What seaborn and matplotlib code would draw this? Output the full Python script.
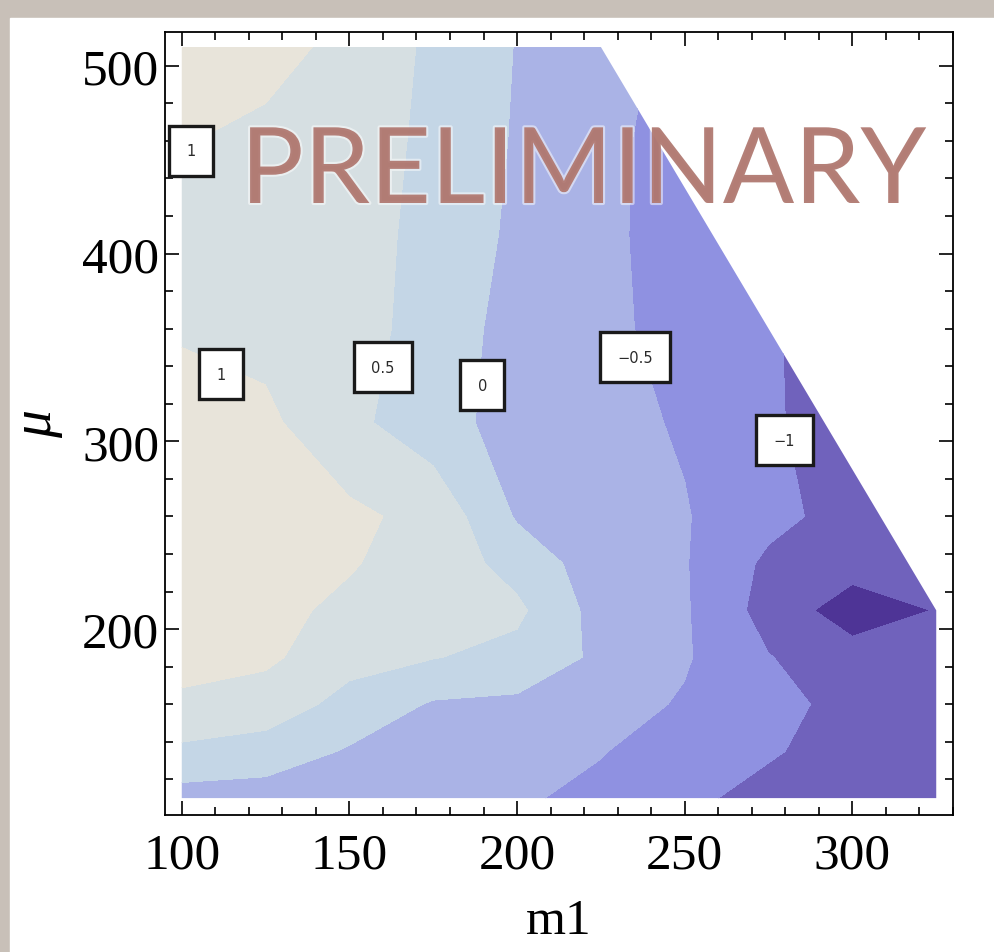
import numpy as np
import pandas as pd
import seaborn as sns
import matplotlib.pyplot as plt
from matplotlib.colors import ListedColormap, BoundaryNorm
from matplotlib.patches import Polygon, Rectangle
from matplotlib.ticker import MultipleLocator
import matplotlib.patheffects as pe

# grid of the scan
m1 = [100, 125, 150, 175, 200, 225, 250, 275, 300, 325]
mu = [110, 135, 160, 185, 210, 235, 260, 310, 360, 410, 460, 510]

# values (rows = mu, columns = m1)
z = [
    [-0.20, -0.25, -0.30, -0.35, -0.45, -0.60, -0.90, -1.15, -1.25, -1.30],
    [0.40, 0.30, -0.05, -0.20, -0.30, -0.48, -0.70, -0.95, -1.20, -1.30],
    [0.92, 0.75, 0.35, -0.05, -0.10, -0.30, -0.55, -0.85, -1.15, -1.30],
    [1.15, 1.10, 0.65, 0.52, 0.35, -0.10, -0.45, -0.98, -1.30, -1.35],
    [1.20, 1.10, 0.92, 0.75, 0.60, -0.20, -0.45, -1.20, -1.75, -1.48],
    [1.30, 1.20, 1.03, 0.82, 0.30, -0.25, -0.47, -1.10, -1.30, -1.45],
    [1.30, 1.25, 1.10, 0.85, -0.05, -0.30, -0.47, -0.85, -1.20, -1.40],
    [1.20, 1.10, 0.62, 0.20, -0.20, -0.35, -0.55, -0.95, -1.20, -1.40],
    [0.95, 0.85, 0.70, 0.30, -0.20, -0.42, -0.62, -0.95, -1.25, -1.50],
    [0.90, 0.82, 0.70, 0.35, -0.10, -0.35, -0.80, -1.00, -1.30, -1.50],
    [1.02, 0.90, 0.72, 0.40, -0.05, -0.35, -0.75, -1.00, -1.20, -1.40],
    [1.40, 1.15, 0.88, 0.40, -0.02, -0.30, -0.65, -0.95, -1.20, -1.40],
]

levels = [-3, -1.5, -1, -0.5, 0, 0.5, 1, 3]
band_colors = ["#4e3496", "#7062bc", "#8f91e1", "#aab3e6",
               "#c4d6e6", "#d6dfe2", "#e8e4da"]

# allowed region of the scan (upper right corner excluded)
region_m1 = [100, 325, 325, 225, 100]
region_mu = [110, 110, 210, 510, 510]

# contour labels
label_text = ["1", "1", "0.5", "0", "\u22120.5", "\u22121"]
label_m1 = [102.7, 111.6, 160.0, 189.6, 235.2, 279.7]
label_mu = [454.8, 335.6, 339.4, 329.8, 344.7, 300.5]

sns.set_style("white")
plt.rcParams["font.family"] = ["Liberation Serif", "DejaVu Serif"]

df = pd.DataFrame(z, index=mu, columns=m1)

fig = plt.figure(figsize=(9.94, 9.53), dpi=100)
fig.patch.set_facecolor("#c8c0b8")
fig.add_artist(Rectangle((10 / 994, 0), 1, (953 - 19) / 953,
                         transform=fig.transFigure, color="white", zorder=-10))
ax = fig.add_axes([165 / 994, 137 / 953, 788 / 994, 783 / 953])
ax.set_facecolor("white")

cmap = ListedColormap(sns.color_palette(band_colors))
norm = BoundaryNorm(levels, cmap.N)
cs = ax.contourf(df.columns, df.index, df.values, levels=levels, cmap=cmap, norm=norm)
clip = Polygon(np.column_stack([region_m1, region_mu]), closed=True,
               transform=ax.transData, facecolor="none", edgecolor="none")
ax.add_patch(clip)
cs.set_clip_path(clip)

for t, x, y in zip(label_text, label_m1, label_mu):
    ax.text(x, y, t, ha="center", va="center", fontsize=10.5, family="DejaVu Sans",
            color="#2a2a2a", zorder=5,
            bbox=dict(boxstyle="square,pad=1.2", fc="white", ec="#1a1a1a", lw=2.4))

ax.set_xlim(95, 330)
ax.set_ylim(101, 518)
ax.xaxis.set_major_locator(MultipleLocator(50))
ax.xaxis.set_minor_locator(MultipleLocator(10))
ax.yaxis.set_major_locator(MultipleLocator(100))
ax.yaxis.set_minor_locator(MultipleLocator(20))
ax.tick_params(which="both", direction="in", top=True, right=True,
               bottom=True, left=True, colors="black", width=1.2)
ax.tick_params(which="major", length=10, labelsize=37)
ax.tick_params(which="minor", length=6)
ax.tick_params(axis="x", which="major", pad=12)
ax.tick_params(axis="y", which="major", pad=4)
for s in ax.spines.values():
    s.set_color("black")
    s.set_linewidth(1.3)

ax.set_xlabel("m1", fontsize=37, labelpad=14, color="black")
ax.set_ylabel("\u03bc", fontsize=40, style="italic", labelpad=14, color="black")

fig.text(583 / 994, 1 - 174 / 953, "PRELIMINARY", ha="center", va="center",
         fontsize=76, family=["Lato", "DejaVu Sans"], color="#b07870", alpha=0.92,
         zorder=10, path_effects=[pe.withStroke(linewidth=3, foreground="white", alpha=0.5)])

fig.savefig("out.png", dpi=100, facecolor=fig.get_facecolor())
